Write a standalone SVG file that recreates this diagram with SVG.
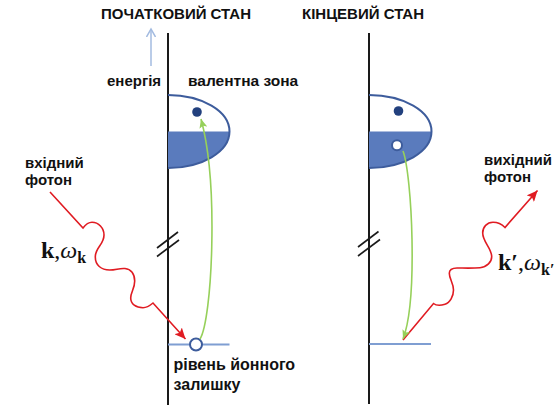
<svg xmlns="http://www.w3.org/2000/svg" width="558" height="407" viewBox="0 0 558 407">
<style>
  .t{font-family:"Liberation Sans",Arial,sans-serif;font-weight:bold;fill:#111}
  .m{font-family:"Liberation Serif","Times New Roman",serif;fill:#111}
  .axis{stroke:#1a1a1a;stroke-width:2;fill:none}
  .brk{stroke:#1a1a1a;stroke-width:1.6;fill:none}
  .band{stroke:#3d5c9c;stroke-width:2}
  .fill{fill:#5a7bbd}
  .lvl{stroke:#7f9ed2;stroke-width:2;fill:none}
  .wave{stroke:#e01b22;stroke-width:1.6;fill:none}
  .grn{stroke:#96d05a;stroke-width:1.6;fill:none}
  .dot{fill:#22407e}
  .hole{fill:#fff;stroke:#3d5c9c;stroke-width:2}
</style>
<defs>
  <marker id="ar" markerUnits="userSpaceOnUse" markerWidth="12" markerHeight="10" refX="11" refY="5" orient="auto">
    <path d="M0,0 L11,5 L0,10 L2.5,5 z" fill="#e01b22"/>
  </marker>
  <marker id="ag" markerUnits="userSpaceOnUse" markerWidth="10" markerHeight="8" refX="9" refY="4" orient="auto">
    <path d="M0,0 L9,4 L0,8 L2,4 z" fill="#96d05a"/>
  </marker>
  <marker id="ab" markerUnits="userSpaceOnUse" markerWidth="10" markerHeight="10" refX="8" refY="5" orient="auto">
    <path d="M0,0.5 L8,5 L0,9.5" fill="none" stroke="#a3bbe0" stroke-width="1.5"/>
  </marker>
</defs>
<rect width="558" height="407" fill="#fff"/>

<g id="title-initial"><text class="t" x="101" y="19" font-size="15">ПОЧАТКОВИЙ СТАН</text></g>
<g id="title-final"><text class="t" x="302" y="19" font-size="15">КІНЦЕВИЙ СТАН</text></g>

<g id="axis-initial">
  <line class="axis" x1="168" y1="33" x2="168" y2="405"/>
  <line class="brk" x1="157" y1="248" x2="178" y2="232"/>
  <line class="brk" x1="157" y1="256.5" x2="179" y2="240"/>
</g>
<g id="axis-final">
  <line class="axis" x1="369" y1="33" x2="369" y2="404"/>
  <line class="brk" x1="358" y1="247" x2="378.5" y2="231.5"/>
  <line class="brk" x1="358" y1="256" x2="380" y2="239.5"/>
</g>

<g id="energy-label"><text class="t" x="107" y="85.5" font-size="15">енергія</text></g>
<g id="valence-label"><text class="t" x="188" y="85.5" font-size="15.5">валентна зона</text></g>

<g id="band-initial">
  <path class="fill" d="M168,131.5 L229.5,131.5 A61.5,36.5 0 0 1 168,168 z"/>
  <path class="band" fill="none" d="M168,95 A61.5,36.5 0 0 1 168,168"/>
  <circle class="dot" cx="197" cy="112" r="4.8"/>
</g>
<g id="band-final">
  <path class="fill" d="M369,131.5 L431.5,131.5 A62.5,36.5 0 0 1 369,168 z"/>
  <path class="band" fill="none" d="M369,95 A62.5,36.5 0 0 1 369,168"/>
  <circle class="dot" cx="398.5" cy="111" r="4.8"/>
  <circle class="hole" cx="397" cy="145.3" r="5"/>
</g>

<g id="level-initial">
  <line class="lvl" x1="168" y1="344.5" x2="229.5" y2="344.5"/>
  <circle class="hole" cx="196" cy="344.5" r="6"/>
</g>
<g id="level-final">
  <line class="lvl" x1="369" y1="344" x2="431" y2="344"/>
</g>

<g id="level-label">
  <text class="t" x="173.5" y="370" font-size="16">рівень йонного</text>
  <text class="t" x="173.5" y="389.5" font-size="16">залишку</text>
</g>

<g id="photon-in-label">
  <text class="t" x="25" y="168" font-size="15">вхідний</text>
  <text class="t" x="25" y="185" font-size="15">фотон</text>
  <text class="m" x="41" y="257.5" font-size="24"><tspan font-weight="bold">k</tspan>,<tspan font-style="italic">ω</tspan><tspan font-weight="bold" font-size="16" dy="5">k</tspan></text>
</g>
<g id="photon-out-label">
  <text class="t" x="484" y="164.5" font-size="15">вихідний</text>
  <text class="t" x="484" y="182" font-size="15">фотон</text>
  <text class="m" x="498" y="270" font-size="24"><tspan font-weight="bold">k′</tspan>,<tspan font-style="italic">ω</tspan><tspan font-weight="bold" font-size="16" dy="5">k′</tspan></text>
</g>

<g id="connectors">
  <line x1="151" y1="66" x2="151" y2="29" stroke="#a3bbe0" stroke-width="1.5" marker-end="url(#ab)"/>
  <path class="wave" marker-end="url(#ar)" d="M50,192 L83,228 C86,224 88.5,222.3 92,222.3 C98.5,222.3 104,228 104,235 C104,245 95.3,247 95.3,257 C95.3,265 101,270 109.7,270 C116,270 119,268 125,268.5 C131,269 134.7,274 134.7,281 C134.7,289 130.7,292 130.7,298 C130.7,304 136,307.7 143,307.7 C147,307.7 150,305.5 153,303 L185.5,339"/>
  <path class="wave" marker-end="url(#ar)" d="M403,340 L433.5,303.5 C436,305.5 441,305.5 445,304.3 C450,303 453.5,296 453.5,290 C453.5,283 449.3,279 449.3,273.3 C449.3,269.5 452,268 457,268 C463,268 472,268.5 480,267.7 C487,267 491.7,262 491.7,256.7 C491.7,248 482.7,242 482.7,233 C482.7,227 487,222.3 493,222.3 C498,222.3 502,224.5 505,227.5 L537.5,190.5"/>
  <path class="grn" marker-end="url(#ag)" d="M200,339 C212,320 219,185 201,119"/>
  <path class="grn" marker-end="url(#ag)" d="M403,151 C412,175 418,300 403,339"/>
</g>
</svg>
